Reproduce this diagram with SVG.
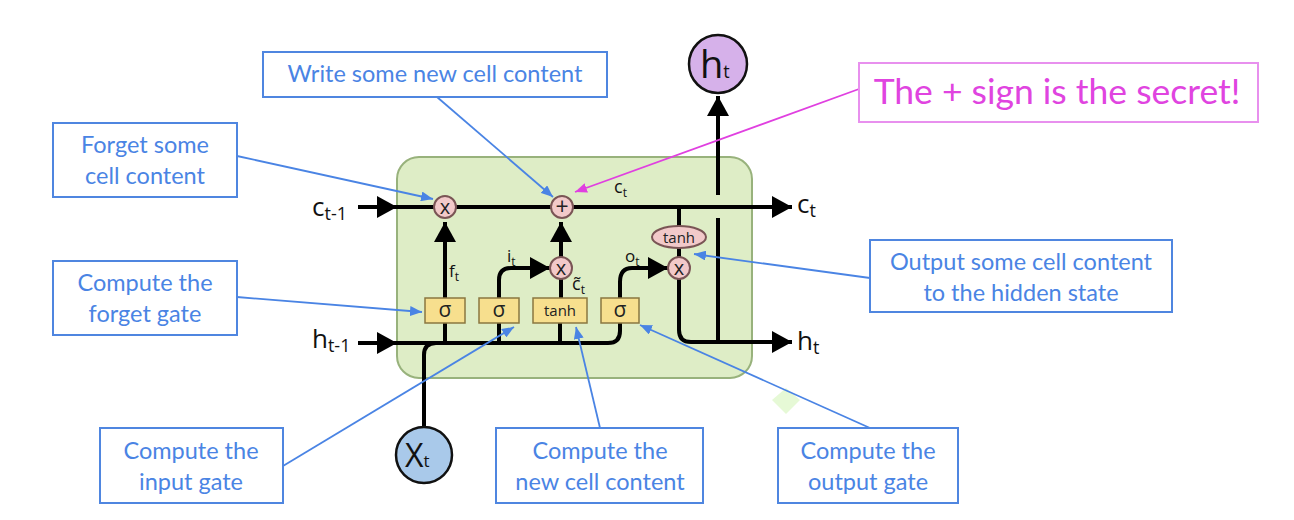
<svg xmlns="http://www.w3.org/2000/svg" width="1294" height="520" viewBox="0 0 1294 520">
<style>
  .lbl rect { fill: #ffffff; stroke: #4f86e0; stroke-width: 2; }
  .lbl text { font-family: Lato, "Open Sans", sans-serif; font-size: 23.5px; fill: #4a84e4; text-anchor: middle; }
  .wire { fill: none; stroke: #000; stroke-width: 4; }
  .arr { fill: none; stroke: #000; stroke-width: 4; marker-end: url(#bk); }
  .blue { fill: none; stroke: #4a84e4; stroke-width: 1.8; marker-end: url(#bl); }
  .op { fill: #f2c9c9; stroke: #7a5555; stroke-width: 2; }
  .gate { fill: #f7df8e; stroke: #8a7740; stroke-width: 1.5; }
  .math { font-family: "Open Sans", Lato, sans-serif; fill: #111; }
  .opt { font-family: "Open Sans", Lato, sans-serif; font-size: 20px; fill: #222; text-anchor: middle; }
</style>
<defs>
  <marker id="bk" markerUnits="userSpaceOnUse" markerWidth="20" markerHeight="22" refX="20" refY="11" orient="auto">
    <path d="M0,0 L20,11 L0,22 z" fill="#000"/>
  </marker>
  <marker id="bl" markerUnits="userSpaceOnUse" markerWidth="12" markerHeight="10" refX="12" refY="5" orient="auto">
    <path d="M0,0 L12,5 L0,10 z" fill="#4a84e4"/>
  </marker>
  <marker id="mg" markerUnits="userSpaceOnUse" markerWidth="12" markerHeight="10" refX="12" refY="5" orient="auto">
    <path d="M0,0 L12,5 L0,10 z" fill="#e040e0"/>
  </marker>
</defs>
<rect width="1294" height="520" fill="#ffffff"/>

<path d="M786,388 L800,400 L786,414 L772,400 z" fill="#e6f9d6"/>

<g id="cell">
  <rect x="397" y="157" width="355" height="221" rx="22" fill="#deedc6" stroke="#98b27c" stroke-width="2"/>
</g>

<g id="connectors">
  <line class="arr" x1="358" y1="207" x2="397" y2="207"/>
  <line class="arr" x1="358" y1="343" x2="397" y2="343"/>
  <line class="arr" x1="397" y1="207" x2="792" y2="207"/>
  <path class="wire" d="M397,343 L608,343 Q620,343 620,331 L620,323"/>
  <path class="wire" d="M424,427 L424,355 Q424,343 436,343"/>
  <line class="wire" x1="445" y1="343" x2="445" y2="323"/>
  <line class="wire" x1="499" y1="343" x2="499" y2="323"/>
  <line class="wire" x1="560" y1="343" x2="560" y2="323"/>
  <line class="arr" x1="445" y1="298" x2="445" y2="222"/>
  <path class="arr" d="M499,298 L499,280 Q499,268 511,268 L550,268"/>
  <line class="wire" x1="561" y1="298" x2="561" y2="279"/>
  <line class="arr" x1="561" y1="257" x2="561" y2="222"/>
  <path class="arr" d="M620,298 L620,282 Q620,268 632,268 L668,268"/>
  <line class="wire" x1="679" y1="207" x2="679" y2="227"/>
  <line class="wire" x1="679" y1="247" x2="679" y2="258"/>
  <path class="arr" d="M679,279 L679,330 Q679,342 691,342 L792,342"/>
  <line class="wire" x1="718" y1="342" x2="718" y2="218"/>
  <line class="arr" x1="718" y1="195" x2="718" y2="96"/>

  <line class="blue" x1="237" y1="156" x2="433" y2="199"/>
  <line class="blue" x1="237" y1="297" x2="422" y2="312"/>
  <line class="blue" x1="437" y1="97" x2="553" y2="197"/>
  <line fill="none" stroke="#e040e0" stroke-width="1.8" marker-end="url(#mg)" x1="859" y1="89" x2="575" y2="192"/>
  <line class="blue" x1="870" y1="278" x2="694" y2="254"/>
  <line class="blue" x1="283" y1="466" x2="514" y2="327"/>
  <line class="blue" x1="600" y1="428" x2="576" y2="327"/>
  <line class="blue" x1="870" y1="428" x2="640" y2="325"/>
</g>

<g id="mul-forget"><circle class="op" cx="445" cy="207" r="11"/><text class="opt" x="445" y="214">x</text></g>
<g id="add"><circle class="op" cx="562" cy="207" r="11"/><text class="opt" x="562" y="215" style="font-size:23px">+</text></g>
<g id="mul-input"><circle class="op" cx="561" cy="268" r="11"/><text class="opt" x="561" y="275">x</text></g>
<g id="tanh-c"><ellipse class="op" cx="679" cy="237" rx="27" ry="11"/><text class="opt" x="679" y="243" style="font-size:15px">tanh</text></g>
<g id="mul-output"><circle class="op" cx="679" cy="268" r="11"/><text class="opt" x="679" y="275">x</text></g>

<g id="gate-forget"><rect class="gate" x="425" y="298" width="40" height="25"/><text class="opt" x="445" y="317" style="font-size:21px">σ</text></g>
<g id="gate-input"><rect class="gate" x="479" y="298" width="40" height="25"/><text class="opt" x="499" y="317" style="font-size:21px">σ</text></g>
<g id="gate-tanh"><rect class="gate" x="533" y="298" width="54" height="25"/><text class="opt" x="560" y="316" style="font-size:15px">tanh</text></g>
<g id="gate-output"><rect class="gate" x="601" y="298" width="38" height="25"/><text class="opt" x="620" y="317" style="font-size:21px">σ</text></g>

<g id="small-labels" class="math">
  <text x="449" y="277" font-size="17">f<tspan font-size="12" dy="4">t</tspan></text>
  <text x="507" y="262" font-size="17">i<tspan font-size="12" dy="4">t</tspan></text>
  <text x="625" y="262" font-size="17">o<tspan font-size="12" dy="4">t</tspan></text>
  <text x="614" y="193" font-size="18">c<tspan font-size="12" dy="4">t</tspan></text>
  <text x="572" y="290" font-size="18">c̃<tspan font-size="12" dy="4">t</tspan></text>
</g>

<g id="io-labels" class="math">
  <text x="312" y="216" font-size="26">c<tspan font-size="18" dy="4">t-1</tspan></text>
  <text x="797" y="213" font-size="26">c<tspan font-size="18" dy="4">t</tspan></text>
  <text x="312" y="348" font-size="26">h<tspan font-size="18" dy="4">t-1</tspan></text>
  <text x="797" y="350" font-size="26">h<tspan font-size="18" dy="4">t</tspan></text>
</g>

<g id="h-out">
  <circle cx="718" cy="64" r="29" fill="#d6b1ea" stroke="#111" stroke-width="2.5"/>
  <text class="math" x="700" y="78" font-size="38">h<tspan font-size="18">t</tspan></text>
</g>
<g id="x-in">
  <circle cx="424" cy="455" r="28" fill="#a9c9ea" stroke="#111" stroke-width="2.5"/>
  <text class="math" x="405" y="467" font-size="32">X<tspan font-size="17">t</tspan></text>
</g>

<g id="lbl-forget" class="lbl"><rect x="53" y="123" width="184" height="74"/><text x="145" y="153">Forget some</text><text x="145" y="184">cell content</text></g>
<g id="lbl-forget-gate" class="lbl"><rect x="53" y="261" width="184" height="74"/><text x="145" y="291">Compute the</text><text x="145" y="322">forget gate</text></g>
<g id="lbl-write" class="lbl"><rect x="263" y="52" width="344" height="45"/><text x="435" y="82">Write some new cell content</text></g>
<g id="lbl-secret"><rect x="859" y="63" width="399" height="59" fill="#fff" stroke="#e890ee" stroke-width="2"/><text x="1057" y="104" font-family="Lato, 'Open Sans', sans-serif" font-size="35.5" fill="#e044e0" text-anchor="middle">The + sign is the secret!</text></g>
<g id="lbl-output" class="lbl"><rect x="870" y="240" width="302" height="72"/><text x="1021" y="270">Output some cell content</text><text x="1021" y="301">to the hidden state</text></g>
<g id="lbl-input" class="lbl"><rect x="100" y="428" width="183" height="75"/><text x="191" y="459">Compute the</text><text x="191" y="490">input gate</text></g>
<g id="lbl-new" class="lbl"><rect x="496" y="428" width="207" height="75"/><text x="600" y="459">Compute the</text><text x="600" y="490">new cell content</text></g>
<g id="lbl-outgate" class="lbl"><rect x="778" y="428" width="180" height="75"/><text x="868" y="459">Compute the</text><text x="868" y="490">output gate</text></g>
</svg>
